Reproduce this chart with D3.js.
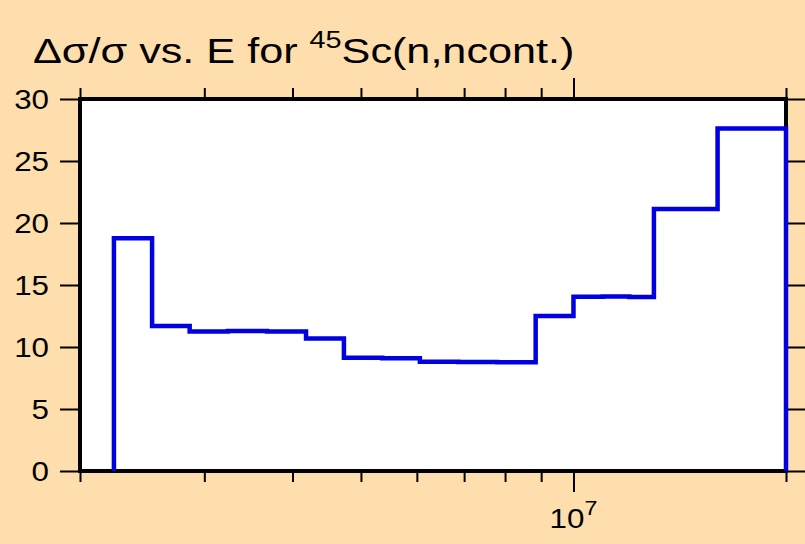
<!DOCTYPE html>
<html>
<head>
<meta charset="utf-8">
<script src="https://cdnjs.cloudflare.com/ajax/libs/d3/7.8.5/d3.min.js"></script>
<style>
  body { margin: 0; background: #ffdead; }
  svg { display: block; font-family: "Liberation Sans", Arial, sans-serif; }
</style>
</head>
<body>
<div id="chart"></div>
<script>
var width = 805;
var height = 544;

// bin edges in eV and the relative uncertainty (%) of each bin
var edges = [2.234e6, 2.53e6, 2.86e6, 3.24e6, 3.68e6, 4.18e6, 4.73e6, 5.36e6, 6.06e6,
  6.87e6, 7.8e6, 8.84e6, 1.0e7, 1.1e7, 1.2e7, 1.3e7, 1.6e7, 2.0e7];
var values = [18.78, 11.70, 11.26, 11.29, 11.26, 10.68, 9.14, 9.10, 8.82, 8.79, 8.78,
  12.49, 14.05, 14.08, 14.04, 21.12, 27.62];

var yTicks = [0, 5, 10, 15, 20, 25, 30];
var xMinorTicks = [2e6, 3e6, 4e6, 5e6, 6e6, 7e6, 8e6, 9e6, 2e7];
var xMajorTicks = [1e7];

var plot = { left: 80, right: 786, top: 99, bottom: 471 };
var stretch = 1.16; // text in the original is wider than it is tall

var x = d3.scaleLog().domain([2e6, 2e7]).range([plot.left, plot.right]);
var y = d3.scaleLinear().domain([0, 30]).range([plot.bottom, plot.top]);

var svg = d3.select("#chart").append("svg")
  .attr("width", width)
  .attr("height", height);

svg.append("rect")
  .attr("width", width)
  .attr("height", height)
  .attr("fill", "#ffdead");

svg.append("rect")
  .attr("x", plot.left)
  .attr("y", plot.top)
  .attr("width", plot.right - plot.left)
  .attr("height", plot.bottom - plot.top)
  .attr("fill", "#fff");

function styleAxis(g) {
  g.select(".domain").remove();
  g.selectAll(".tick line").attr("stroke", "#000").attr("stroke-width", 2);
  g.selectAll(".tick text").remove();
}

// x axes, bottom and top
svg.append("g").attr("transform", "translate(0," + plot.bottom + ")")
  .call(d3.axisBottom(x).tickValues(xMinorTicks).tickSize(11)).call(styleAxis);
svg.append("g").attr("transform", "translate(0," + plot.bottom + ")")
  .call(d3.axisBottom(x).tickValues(xMajorTicks).tickSize(21)).call(styleAxis);
svg.append("g").attr("transform", "translate(0," + plot.top + ")")
  .call(d3.axisTop(x).tickValues(xMinorTicks).tickSize(11)).call(styleAxis);
svg.append("g").attr("transform", "translate(0," + plot.top + ")")
  .call(d3.axisTop(x).tickValues(xMajorTicks).tickSize(21)).call(styleAxis);

// y axes, left and right
svg.append("g").attr("transform", "translate(" + plot.left + ",0)")
  .call(d3.axisLeft(y).tickValues(yTicks).tickSize(20)).call(styleAxis);
svg.append("g").attr("transform", "translate(" + plot.right + ",0)")
  .call(d3.axisRight(y).tickValues(yTicks).tickSize(20)).call(styleAxis);

// y labels
svg.append("g").selectAll("text")
  .data(yTicks)
  .enter().append("text")
  .attr("transform", function(d) { return "translate(49," + y(d) + ") scale(" + stretch + ",1)"; })
  .attr("dy", "0.36em")
  .attr("text-anchor", "end")
  .attr("font-size", 27)
  .text(function(d) { return d; });

// x label 10^7
var xl = svg.append("text")
  .attr("transform", "translate(" + x(1e7) + ",528) scale(" + stretch + ",1)")
  .attr("text-anchor", "middle")
  .attr("font-size", 27);
xl.append("tspan").text("10");
xl.append("tspan").attr("font-size", 20).attr("dy", -13).text("7");

// histogram outline
var pts = [[edges[0], 0]];
values.forEach(function(v, i) {
  pts.push([edges[i], v]);
  pts.push([edges[i + 1], v]);
});
pts.push([edges[edges.length - 1], 0]);

// frame
svg.append("rect")
  .attr("x", plot.left)
  .attr("y", plot.top)
  .attr("width", plot.right - plot.left)
  .attr("height", plot.bottom - plot.top)
  .attr("fill", "none")
  .attr("stroke", "#000")
  .attr("stroke-width", 4);

svg.append("path")
  .datum(pts)
  .attr("fill", "none")
  .attr("stroke", "#0000e0")
  .attr("stroke-width", 4.5)
  .attr("d", d3.line().x(function(d) { return x(d[0]); }).y(function(d) { return y(d[1]); }));

// title
var title = svg.append("text")
  .attr("transform", "translate(33,63) scale(1.2,1)")
  .attr("font-size", 36);
title.append("tspan").text("\u0394\u03c3/\u03c3 vs. E for ");
title.append("tspan").attr("font-size", 24).attr("dy", -15).text("45");
title.append("tspan").attr("dy", 15).text("Sc(n,ncont.)");
</script>
</body>
</html>
